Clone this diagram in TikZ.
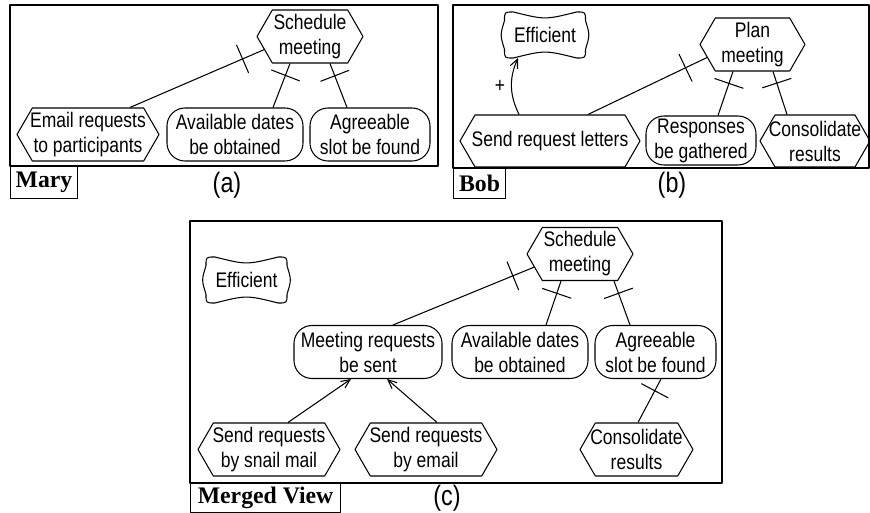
\documentclass[tikz,border=0pt]{standalone}
\usepackage{fontspec}
\setmainfont{Liberation Sans}[FakeStretch=0.83]
\newfontfamily\viewfont{Liberation Serif}
\usetikzlibrary{shapes.symbols,arrows.meta}
\tikzset{
  goal/.style={draw, rounded corners=0.36cm, align=center, minimum height=1.06cm, inner sep=1pt},
  task/.style={draw, shape=signal, signal to=west and east, signal pointer angle=120,
    align=center, minimum height=1.06cm, inner xsep=-6pt, inner ysep=1pt},
  sgtext/.style={align=center, minimum width=1.6cm, minimum height=0.9cm, inner sep=0pt},
  andtick/.style={draw, sloped, shape=rectangle, inner sep=0pt, minimum width=0pt, minimum height=0.6cm},
  viewname/.style={draw, anchor=north west, inner sep=1pt, font=\viewfont\bfseries\fontsize{13.5}{15}\selectfont},
  caption/.style={font=\fontsize{16}{18}\selectfont}
}
% softgoal: node plus wavy outline
\newcommand{\softgoal}[3]{%
  \node[sgtext] (#1) at (#2) {#3};
  \draw ([xshift=5pt]#1.north west)
    .. controls ([yshift=-4.5pt]#1.north) .. ([xshift=-5pt]#1.north east)
    .. controls (#1.north east) .. ([yshift=-5pt]#1.north east)
    .. controls ([xshift=2.5pt]#1.east) .. ([yshift=5pt]#1.south east)
    .. controls (#1.south east) .. ([xshift=-5pt]#1.south east)
    .. controls ([yshift=4.5pt]#1.south) .. ([xshift=5pt]#1.south west)
    .. controls (#1.south west) .. ([yshift=5pt]#1.south west)
    .. controls ([xshift=-2.5pt]#1.west) .. ([yshift=-5pt]#1.north west)
    .. controls (#1.north west) .. cycle;
}
\begin{document}
\begin{tikzpicture}[font=\fontsize{12}{14.2}\selectfont, line join=round, line width=0.6pt,
    >={Straight Barb[length=5pt,width=4.5pt]}]
  \useasboundingbox (0,0) rectangle (17.4,-10.26);

  % (a) Mary
  \draw[line width=0.7pt] (0.2,-0.1) rectangle (8.76,-3.32);
  \node[viewname, minimum width=1.34cm, minimum height=0.64cm] (maryL) at (0.2,-3.32) {Mary};
  \node[caption] (capA) at (4.54,-3.7) {(a)};
  \node[task, minimum width=2.12cm] (schA) at (6.2,-0.73) {Schedule\\meeting};
  \node[task, minimum width=2.84cm] (emailA) at (1.76,-2.69) {Email requests\\to participants};
  \node[goal, minimum width=2.72cm] (availA) at (4.7,-2.69) {Available dates\\be obtained};
  \node[goal, minimum width=2.4cm] (agreeA) at (7.4,-2.69) {Agreeable\\slot be found};
  \draw ([xshift=0.84cm]emailA.north) -- (schA.196) node[andtick, pos=0.84]{};
  \draw ([xshift=0.76cm]availA.north) -- ([xshift=-0.4cm]schA.south) node[andtick, pos=0.73]{};
  \draw ([xshift=-0.46cm]agreeA.north) -- ([xshift=0.4cm]schA.south) node[andtick, pos=0.72]{};

  % (b) Bob
  \draw[line width=0.7pt] (9.06,-0.1) rectangle (17.38,-3.36);
  \node[viewname, minimum width=1.04cm, minimum height=0.6cm] (bobL) at (9.06,-3.36) {Bob};
  \node[caption] (capB) at (13.44,-3.7) {(b)};
  \softgoal{effB}{10.9,-0.7}{Efficient}
  \node[task, minimum width=2.1cm] (planB) at (15.05,-0.89) {Plan\\meeting};
  \node[task, minimum width=3.6cm, minimum height=1.04cm] (sendB) at (11.0,-2.82) {Send request letters};
  \node[goal, minimum width=2.2cm, minimum height=0.98cm] (respB) at (14.02,-2.81) {Responses\\be gathered};
  \node[task, minimum width=2.2cm, minimum height=1.04cm] (consB) at (16.3,-2.82) {Consolidate\\results};
  \draw ([xshift=0.76cm]sendB.north) -- (planB.196) node[andtick, pos=0.82]{};
  \draw ([xshift=0.34cm]respB.north) -- ([xshift=-0.39cm]planB.south) node[andtick, pos=0.73]{};
  \draw ([xshift=-0.56cm]consB.north) -- ([xshift=0.41cm]planB.south) node[andtick, pos=0.73]{};
  \draw[->] ([xshift=-0.62cm]sendB.north) to[bend left=25] node[left, pos=0.5]{+} ([xshift=-0.54cm]effB.south);

  % (c) merged
  \draw[line width=0.7pt] (3.8,-4.42) rectangle (14.44,-9.66);
  \node[viewname, minimum width=3cm, minimum height=0.58cm] (mergedL) at (3.8,-9.66) {Merged View};
  \node[caption] (capC) at (8.94,-9.96) {(c)};
  \softgoal{effC}{4.93,-5.6}{Efficient}
  \node[task, minimum width=2.12cm] (schC) at (11.6,-5.08) {Schedule\\meeting};
  \node[goal, minimum width=2.96cm] (meetC) at (7.36,-7.04) {Meeting requests\\be sent};
  \node[goal, minimum width=2.72cm] (availC) at (10.4,-7.04) {Available dates\\be obtained};
  \node[goal, minimum width=2.42cm] (agreeC) at (13.11,-7.04) {Agreeable\\slot be found};
  \node[task, minimum width=2.84cm] (snailC) at (5.38,-8.99) {Send requests\\by snail mail};
  \node[task, minimum width=2.84cm] (emailC) at (8.52,-8.99) {Send requests\\by email};
  \node[task, minimum width=2.26cm] (consC) at (12.73,-8.99) {Consolidate\\results};
  \draw ([xshift=0.5cm]meetC.north) -- (schC.196) node[andtick, pos=0.85]{};
  \draw ([xshift=0.52cm]availC.north) -- ([xshift=-0.38cm]schC.south) node[andtick, pos=0.72]{};
  \draw ([xshift=-0.51cm]agreeC.north) -- ([xshift=0.68cm]schC.south) node[andtick, pos=0.72]{};
  \draw ([xshift=0.03cm]consC.north) -- ([xshift=0.11cm]agreeC.south) node[andtick, pos=0.73]{};
  \draw[->] ([xshift=0.38cm]snailC.north) -- ([xshift=-0.34cm]meetC.south);
  \draw[->] ([xshift=0.22cm]emailC.north) -- ([xshift=0.38cm]meetC.south);
\end{tikzpicture}
\end{document}
